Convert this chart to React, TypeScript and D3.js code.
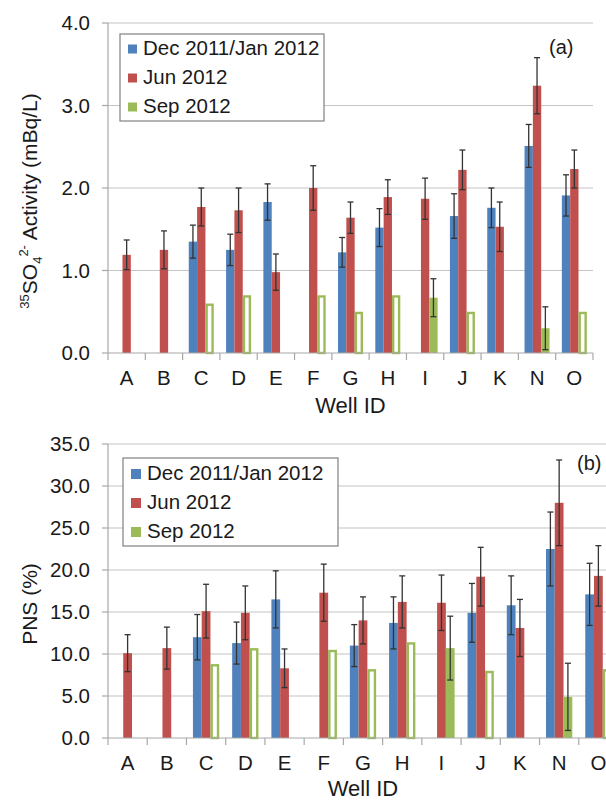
import React, { useEffect, useRef } from "react";
import * as d3 from "d3";

const wells = ["A", "B", "C", "D", "E", "F", "G", "H", "I", "J", "K", "N", "O"];
const seriesNames = ["Dec 2011/Jan 2012", "Jun 2012", "Sep 2012"];
const colors = ["#4F81BD", "#C0504D", "#9BBB59"];

// (a) 35SO4 activity, mBq/L (null = not sampled)
const actDec = [null, null, 1.35, 1.25, 1.83, null, 1.22, 1.52, null, 1.66, 1.76, 2.51, 1.91];
const actDecErr = [null, null, 0.2, 0.19, 0.22, null, 0.18, 0.23, null, 0.27, 0.24, 0.26, 0.25];
const actJun = [1.19, 1.25, 1.77, 1.73, 0.98, 2.0, 1.64, 1.89, 1.87, 2.22, 1.53, 3.24, 2.23];
const actJunErr = [0.18, 0.23, 0.23, 0.27, 0.22, 0.27, 0.19, 0.21, 0.25, 0.24, 0.3, 0.34, 0.23];
const actSep = [null, null, 0.6, 0.7, null, 0.7, 0.5, 0.7, 0.67, 0.5, null, 0.3, 0.5];
const actSepErr = [null, null, null, null, null, null, null, null, 0.23, null, null, 0.26, null];
const actTicks = [0, 1, 2, 3, 4];

// (b) PNS, %
const pnsDec = [null, null, 12.0, 11.3, 16.5, null, 11.0, 13.7, null, 14.9, 15.8, 22.5, 17.1];
const pnsDecErr = [null, null, 2.7, 2.5, 3.4, null, 2.5, 3.1, null, 3.5, 3.5, 4.4, 3.7];
const pnsJun = [10.1, 10.7, 15.1, 14.9, 8.3, 17.3, 14.0, 16.2, 16.1, 19.2, 13.1, 28.0, 19.3];
const pnsJunErr = [2.2, 2.5, 3.2, 3.2, 2.3, 3.4, 2.8, 3.1, 3.3, 3.5, 3.4, 5.1, 3.6];
const pnsSep = [null, null, 8.8, 10.7, null, 10.5, 8.2, 11.4, 10.7, 8.0, null, 4.9, 8.2];
const pnsSepErr = [null, null, null, null, null, null, null, null, 3.8, null, null, 4.0, null];
const pnsTicks = [0, 5, 10, 15, 20, 25, 30, 35];

const font = "'Liberation Sans', Arial, sans-serif";

type Panel = {
    values: (number | null)[][]
    errors: (number | null)[][]
    ticks: number[]
    xRange: [number, number]
    yRange: [number, number]
    catY: number
    titleY: number
    label: string
    labelX: number
    labelY: number
    legend: { x: number, y: number, w: number, h: number, rowY: number[], sw: number }
}

function drawPanel(g: any, p: Panel) {
    const y = d3.scaleLinear().domain([0, p.ticks[p.ticks.length - 1]]).range(p.yRange)
    const x0 = d3.scaleBand().domain(wells).range(p.xRange).paddingInner(0).paddingOuter(0)
    const bw = x0.bandwidth()
    const x1 = d3.scaleBand().domain(["0", "1", "2"]).range([bw * 0.165, bw * 0.835])
    const [xl, xr] = p.xRange
    const y0 = y(0)

    // gridlines
    g.selectAll(".grid").data(p.ticks.filter(t => t > 0)).enter().append("line")
        .attr("x1", xl).attr("x2", xr)
        .attr("y1", (d: number) => y(d)).attr("y2", (d: number) => y(d))
        .attr("stroke", "#c4c4c4").attr("stroke-width", 1.2)

    // bars
    p.values.forEach((vals, s) => {
        vals.forEach((v, i) => {
            if (v == null) return
            const bx = (x0(wells[i]) as number) + (x1(String(s)) as number)
            const w = x1.bandwidth()
            const hollow = s === 2 && p.errors[s][i] == null
            if (hollow) {
                g.append("rect")
                    .attr("x", bx + 1.2).attr("y", y(v) + 1.2)
                    .attr("width", w - 2.4).attr("height", y0 - y(v) - 1.2)
                    .attr("fill", "white").attr("stroke", colors[s]).attr("stroke-width", 2.4)
            } else {
                g.append("rect")
                    .attr("x", bx).attr("y", y(v))
                    .attr("width", w).attr("height", y0 - y(v))
                    .attr("fill", colors[s])
            }
        })
    })

    // error bars
    p.errors.forEach((errs, s) => {
        errs.forEach((e, i) => {
            const v = p.values[s][i]
            if (e == null || v == null) return
            const cx = (x0(wells[i]) as number) + (x1(String(s)) as number) + x1.bandwidth() / 2
            const eg = g.append("g").attr("stroke", "#333").attr("stroke-width", 1.3)
            eg.append("line").attr("x1", cx).attr("x2", cx).attr("y1", y(v - e)).attr("y2", y(v + e))
            eg.append("line").attr("x1", cx - 3).attr("x2", cx + 3).attr("y1", y(v + e)).attr("y2", y(v + e))
            eg.append("line").attr("x1", cx - 3).attr("x2", cx + 3).attr("y1", y(v - e)).attr("y2", y(v - e))
        })
    })

    // axes
    const ax = g.append("g").attr("stroke", "#a8a8a8").attr("stroke-width", 1.2)
    ax.append("line").attr("x1", xl).attr("x2", xl).attr("y1", y0).attr("y2", p.yRange[1])
    ax.append("line").attr("x1", xl).attr("x2", xr).attr("y1", y0).attr("y2", y0)
    p.ticks.forEach(t => {
        ax.append("line").attr("x1", xl - 6).attr("x2", xl).attr("y1", y(t)).attr("y2", y(t))
    })
    d3.range(wells.length + 1).forEach(i => {
        const tx = xl + i * bw
        ax.append("line").attr("x1", tx).attr("x2", tx).attr("y1", y0).attr("y2", y0 + 7)
    })

    g.selectAll(".ytick").data(p.ticks).enter().append("text")
        .attr("x", 90).attr("y", (d: number) => y(d)).attr("dy", "0.36em")
        .attr("text-anchor", "end").attr("font-size", 20.5).attr("fill", "#1a1a1a")
        .text((d: number) => d3.format(".1f")(d))

    g.selectAll(".xlab").data(wells).enter().append("text")
        .attr("x", (d: string) => (x0(d) as number) + bw / 2).attr("y", p.catY)
        .attr("text-anchor", "middle").attr("font-size", 20.5).attr("fill", "#1a1a1a")
        .text((d: string) => d)

    g.append("text").attr("x", (xl + xr) / 2).attr("y", p.titleY)
        .attr("text-anchor", "middle").attr("font-size", 22).attr("fill", "#1a1a1a")
        .text("Well ID")

    g.append("text").attr("x", p.labelX).attr("y", p.labelY)
        .attr("font-size", 20).attr("fill", "#1a1a1a").text(p.label)

    // legend
    const L = p.legend
    const lg = g.append("g")
    lg.append("rect").attr("x", L.x).attr("y", L.y).attr("width", L.w).attr("height", L.h)
        .attr("fill", "white").attr("stroke", "#808080").attr("stroke-width", 1.2)
    seriesNames.forEach((name, s) => {
        lg.append("rect").attr("x", L.x + 8).attr("y", L.rowY[s] - 6 - L.sw / 2)
            .attr("width", L.sw).attr("height", L.sw).attr("fill", colors[s])
        lg.append("text").attr("x", L.x + 10 + L.sw + 4).attr("y", L.rowY[s])
            .attr("font-size", 20.5).attr("fill", "#1a1a1a").text(name)
    })
}

export default function App() {
    const ref = useRef<SVGSVGElement>(null)
    useEffect(() => {
        const svg = d3.select(ref.current)
        svg.selectAll("*").remove()
        svg.append("rect").attr("width", 606).attr("height", 801).attr("fill", "white")

        drawPanel(svg.append("g"), {
            values: [actDec, actJun, actSep],
            errors: [actDecErr, actJunErr, actSepErr],
            ticks: actTicks,
            xRange: [108, 593],
            yRange: [353, 23],
            catY: 385,
            titleY: 413,
            label: "(a)",
            labelX: 549,
            labelY: 54,
            legend: { x: 120, y: 34, w: 204, h: 87, rowY: [55, 84, 113], sw: 9 },
        })
        drawPanel(svg.append("g"), {
            values: [pnsDec, pnsJun, pnsSep],
            errors: [pnsDecErr, pnsJunErr, pnsSepErr],
            ticks: pnsTicks,
            xRange: [108, 618],
            yRange: [738, 444],
            catY: 770,
            titleY: 796,
            label: "(b)",
            labelX: 577,
            labelY: 470,
            legend: { x: 123, y: 458, w: 215, h: 88, rowY: [480, 509, 538], sw: 10 },
        })

        // y-axis titles
        const ta = svg.append("text").attr("transform", "translate(37,201) rotate(-90)")
            .attr("text-anchor", "middle").attr("font-size", 21).attr("fill", "#1a1a1a")
        ta.append("tspan").attr("font-size", 13).attr("dy", -8).text("35")
        ta.append("tspan").attr("dy", 8).text("SO")
        ta.append("tspan").attr("font-size", 13).attr("dy", 5).text("4")
        ta.append("tspan").attr("font-size", 13).attr("dy", -14).text("2-")
        ta.append("tspan").attr("dy", 9).text(" Activity (mBq/L)")

        svg.append("text").attr("transform", "translate(37,604) rotate(-90)")
            .attr("text-anchor", "middle").attr("font-size", 21).attr("fill", "#1a1a1a")
            .text("PNS (%)")
    }, [])
    return (
        <svg ref={ref} width={606} height={801} viewBox="0 0 606 801"
            style={{ position: "absolute", left: 0, top: 0, fontFamily: font }} />
    )
}
